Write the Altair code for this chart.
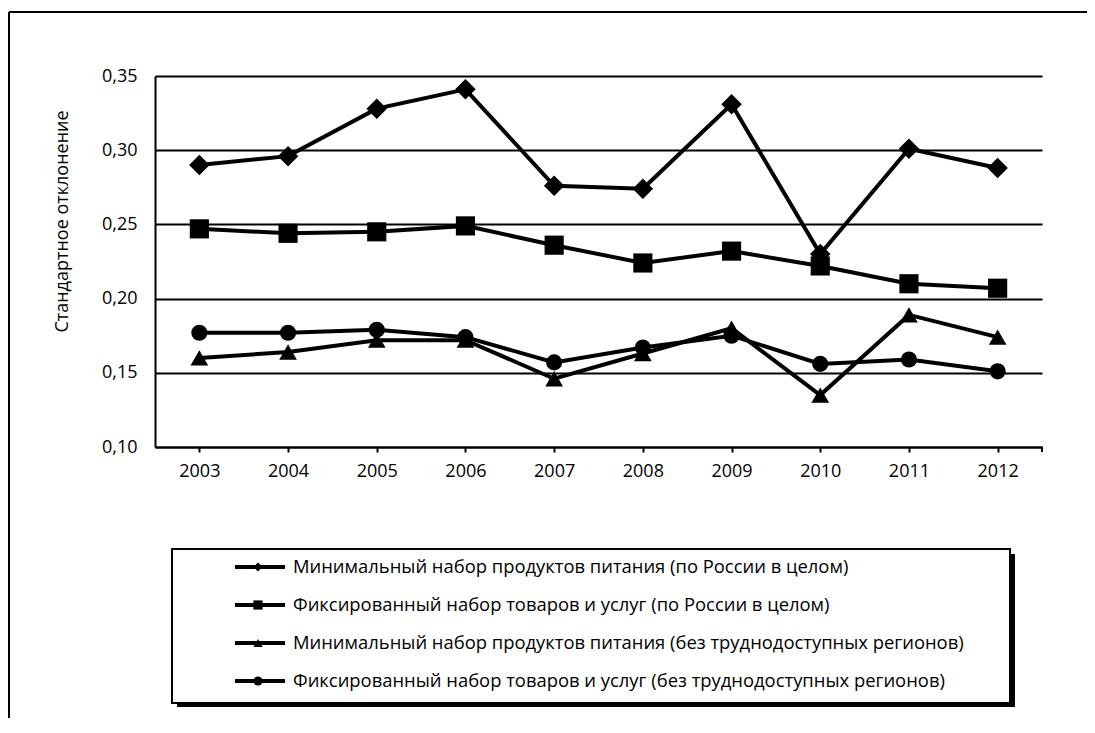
import altair as alt
import pandas as pd

years = ["2003", "2004", "2005", "2006", "2007", "2008", "2009", "2010", "2011", "2012"]
labels = [
    "Минимальный набор продуктов питания (по России в целом)",
    "Фиксированный набор товаров и услуг (по России в целом)",
    "Минимальный набор продуктов питания (без труднодоступных регионов)",
    "Фиксированный набор товаров и услуг (без труднодоступных регионов)",
]
min_food_russia = [0.290, 0.296, 0.328, 0.341, 0.276, 0.274, 0.331, 0.230, 0.301, 0.288]
fixed_set_russia = [0.247, 0.244, 0.245, 0.249, 0.236, 0.224, 0.232, 0.222, 0.210, 0.207]
min_food_excl = [0.160, 0.164, 0.172, 0.172, 0.146, 0.163, 0.180, 0.135, 0.189, 0.174]
fixed_set_excl = [0.177, 0.177, 0.179, 0.174, 0.157, 0.167, 0.175, 0.156, 0.159, 0.151]
y_ticks = [0.10, 0.15, 0.20, 0.25, 0.30, 0.35]
y_title = "Стандартное отклонение"

series_values = [min_food_russia, fixed_set_russia, min_food_excl, fixed_set_excl]
rows = []
for lab, vals in zip(labels, series_values):
    for yr, v in zip(years, vals):
        rows.append({"year": yr, "series": lab, "value": v})
df = pd.DataFrame(rows)
legend_df = pd.DataFrame({"series": labels})
one = pd.DataFrame({"a": [0]})

FONT = "Open Sans"
shapes = ["diamond", "square", "triangle-up", "circle"]
shape_scale = alt.Scale(domain=labels, range=shapes)

x_enc = alt.X("year:O", sort=years,
              scale=alt.Scale(type="point", padding=0.5),
              axis=alt.Axis(title=None, labelAngle=0, ticks=True, tickSize=5,
                            labelPadding=10, domainWidth=2, tickWidth=2))
y_enc = alt.Y("value:Q",
              scale=alt.Scale(domain=[0.10, 0.35], nice=False, zero=False),
              axis=alt.Axis(values=y_ticks, ticks=False, labelPadding=18,
                            labelExpr="replace(format(datum.value, '.2f'), '.', ',')",
                            grid=True, gridColor="black", gridWidth=1.8,
                            domainWidth=2, title=y_title, titleAngle=-90,
                            titleX=-93, titleY=145, titleAlign="center",
                            titleBaseline="middle", titleFontSize=18,
                            titleFontWeight="normal", titleFont=FONT,
                            titleColor="black"))

lines = alt.Chart(df).mark_line(color="black", strokeWidth=4).encode(
    x=x_enc, y=y_enc, detail="series:N")
points = alt.Chart(df).mark_point(filled=True, color="black", opacity=1).encode(
    x=alt.X("year:O", sort=years),
    y=alt.Y("value:Q"),
    shape=alt.Shape("series:N", scale=shape_scale, legend=None),
    size=alt.Size("series:N", scale=alt.Scale(domain=labels, range=[420, 260, 240, 330]), legend=None),
)
end_tick = alt.Chart(one).mark_rule(color="black", strokeWidth=2).encode(
    x=alt.value(887), y=alt.value(371), y2=alt.value(376))
main = alt.layer(lines, points, end_tick)

# legend box
leg_y = alt.Y("series:N", sort=labels,
              scale=alt.Scale(type="point", domain=labels, range=[491, 605], padding=0),
              axis=None)
shadow = alt.Chart(one).mark_rect(color="black").encode(
    x=alt.value(22), x2=alt.value(860), y=alt.value(478), y2=alt.value(631))
box = alt.Chart(one).mark_rect(fill="white", stroke="black", strokeWidth=2).encode(
    x=alt.value(17), x2=alt.value(855), y=alt.value(473), y2=alt.value(627))
leg_lines = alt.Chart(legend_df).mark_rule(color="black", strokeWidth=4).encode(
    x=alt.value(80), x2=alt.value(130), y=leg_y)
leg_pts = alt.Chart(legend_df).mark_point(filled=True, color="black", opacity=1, size=85).encode(
    x=alt.value(103), y=leg_y,
    shape=alt.Shape("series:N", scale=shape_scale, legend=None))
leg_text = alt.Chart(legend_df).mark_text(align="left", baseline="middle", font=FONT,
                                           fontSize=18.4, color="black").encode(
    x=alt.value(138), y=leg_y, text="series:N")
legend = alt.layer(shadow, box, leg_lines, leg_pts, leg_text)

# outer frame (left and top edges)
frame_left = alt.Chart(one).mark_rule(color="black", strokeWidth=2).encode(
    x=alt.value(-146), y=alt.value(-64), y2=alt.value(642))
frame_top = alt.Chart(one).mark_rule(color="black", strokeWidth=2).encode(
    x=alt.value(-146), x2=alt.value(932), y=alt.value(-64))
frame = alt.layer(frame_left, frame_top)

chart = alt.layer(frame, main, legend).resolve_scale(y="independent").properties(
    width=887, height=371,
    padding={"left": 147, "top": 68, "right": 45, "bottom": 271},
    autosize=alt.AutoSizeParams(type="none"),
    background="white",
).configure_view(stroke=None).configure_axis(
    labelFont=FONT, labelFontSize=18, labelColor="black",
    domainColor="black", tickColor="black",
)

chart.save("out.html", embed_options={"renderer": "svg", "actions": False})
